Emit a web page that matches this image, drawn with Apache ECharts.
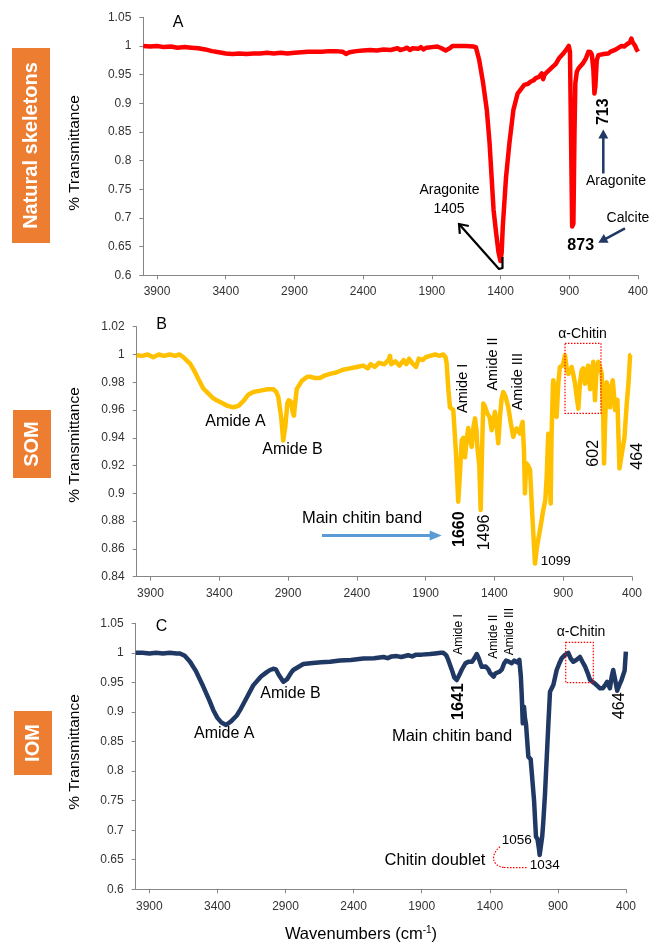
<!DOCTYPE html>
<html><head><meta charset="utf-8">
<script src="https://cdn.jsdelivr.net/npm/echarts@6/dist/echarts.min.js"></script>
<style>html,body{margin:0;padding:0;background:#fff}#c{width:651px;height:944px}</style>
</head><body><div id="c"></div>
<script>
// ---------- Data ----------
const xTicks = [3900, 3400, 2900, 2400, 1900, 1400, 900, 400];
const yTicksA = [0.6, 0.65, 0.7, 0.75, 0.8, 0.85, 0.9, 0.95, 1, 1.05];
const yTicksB = [0.84, 0.86, 0.88, 0.9, 0.92, 0.94, 0.96, 0.98, 1, 1.02];

// A: Natural skeletons
const wnA = [4000,3950,3900,3850,3800,3750,3700,3650,3600,3550,3500,3450,3400,3350,3300,3250,3200,3150,3100,3050,3000,2950,2900,2850,2800,2750,2700,2650,2600,2550,2525,2500,2450,2400,2350,2300,2250,2200,2150,2140,2130,2100,2080,2060,2040,2000,1980,1960,1940,1900,1860,1830,1800,1790,1770,1750,1700,1650,1600,1580,1556,1527,1500,1480,1451,1432,1415,1401,1392,1384,1360,1336,1307,1276,1228,1200,1180,1160,1144,1120,1100,1090,1080,1060,1048,1020,1000,976,950,920,904,895,885,879,870,862,856,845,832,800,780,760,745,736,725,717,710,700,688,650,616,600,580,560,540,520,500,480,460,448,440,430,420,410,400];
const tA  = [1.0,0.999,1.0,0.998,0.999,0.997,0.998,0.997,0.996,0.994,0.991,0.989,0.987,0.986,0.987,0.986,0.987,0.987,0.988,0.987,0.988,0.987,0.988,0.989,0.990,0.990,0.990,0.991,0.991,0.990,0.986,0.989,0.991,0.992,0.993,0.992,0.994,0.993,0.996,0.999,0.993,0.995,0.997,0.993,0.996,0.995,0.998,0.994,0.997,0.998,0.999,0.996,0.992,0.991,0.996,1.0,1.0,1.0,0.999,0.998,0.976,0.935,0.888,0.83,0.714,0.673,0.64,0.625,0.64,0.685,0.772,0.83,0.888,0.917,0.932,0.934,0.938,0.94,0.944,0.946,0.952,0.942,0.95,0.955,0.958,0.964,0.968,0.978,0.985,0.994,1.0,0.99,0.80,0.685,0.69,0.85,0.935,0.955,0.961,0.97,0.978,0.99,0.989,0.985,0.96,0.917,0.93,0.975,0.984,0.986,0.987,0.99,0.992,0.994,0.997,1.0,0.999,1.003,1.006,1.013,1.007,1.005,1.0,0.994,0.99];

// B: SOM
const wnB = [4000,3960,3920,3880,3840,3800,3760,3720,3690,3660,3630,3612,3580,3550,3516,3480,3450,3419,3380,3340,3298,3260,3220,3190,3152,3100,3050,3007,2985,2971,2950,2935,2920,2905,2895,2880,2865,2857,2845,2837,2800,2760,2740,2700,2668,2630,2595,2550,2500,2450,2400,2353,2320,2300,2270,2240,2200,2170,2159,2150,2120,2090,2060,2040,2020,2000,1990,1970,1950,1920,1900,1868,1830,1800,1772,1755,1747,1735,1723,1699,1680,1663,1650,1638,1625,1614,1600,1590,1578,1565,1552,1541,1530,1524,1510,1500,1490,1481,1470,1452,1435,1420,1408,1396,1385,1372,1360,1348,1336,1320,1299,1280,1263,1250,1239,1227,1214,1205,1195,1185,1178,1172,1166,1155,1141,1125,1105,1090,1069,1045,1030,1020,1012,1008,1000,991,985,975,972,960,948,935,924,904,887,875,863,850,839,825,814,800,790,778,766,755,742,730,718,705,695,681,669,660,645,630,620,610,603,596,584,570,560,550,540,530,523,514,506,498,491,480,467,455,438,425,414,405];
const tB  = [0.9995,0.999,1.0,0.998,1.0,0.999,1.0,0.999,1.0,0.998,0.995,0.9935,0.988,0.982,0.9755,0.972,0.969,0.967,0.965,0.963,0.962,0.963,0.967,0.971,0.973,0.974,0.975,0.975,0.973,0.9695,0.955,0.938,0.948,0.965,0.967,0.966,0.958,0.956,0.968,0.975,0.981,0.984,0.984,0.983,0.983,0.985,0.986,0.987,0.989,0.990,0.991,0.992,0.990,0.993,0.991,0.994,0.993,0.996,0.999,0.993,0.995,0.992,0.996,0.993,0.997,0.994,0.995,0.991,0.997,0.996,0.998,0.999,1.0,0.999,1.0,0.998,0.9935,0.975,0.962,0.96,0.93,0.894,0.915,0.938,0.94,0.926,0.94,0.947,0.94,0.9335,0.948,0.954,0.945,0.9335,0.92,0.888,0.93,0.9647,0.963,0.9575,0.955,0.9455,0.952,0.9587,0.95,0.936,0.955,0.968,0.973,0.97,0.962,0.95,0.9407,0.945,0.9467,0.945,0.943,0.948,0.9515,0.93,0.9,0.915,0.9215,0.92,0.917,0.885,0.8495,0.862,0.8735,0.888,0.895,0.912,0.935,0.943,0.92,0.8927,0.94,0.978,0.9815,0.975,0.955,0.98,0.991,0.992,0.9995,0.99,0.986,0.988,0.991,0.985,0.979,0.968,0.961,0.98,0.9885,0.99,0.979,0.987,0.992,0.975,0.985,0.9947,0.967,0.985,0.9947,0.99,0.986,0.96,0.9215,0.95,0.98,0.975,0.962,0.975,0.9815,0.97,0.96,0.965,0.9673,0.94,0.918,0.925,0.924,0.94,0.9647,0.98,0.9995,1.0];

// C: IOM
const wnC = [4000,3950,3900,3850,3800,3750,3700,3675,3640,3601,3560,3504,3460,3430,3400,3370,3337,3300,3258,3234,3190,3137,3080,3040,3014,2990,2970,2950,2916,2890,2860,2843,2800,2769,2700,2640,2573,2500,2420,2329,2250,2180,2150,2120,2084,2050,2000,1970,1940,1900,1839,1800,1760,1742,1720,1705,1680,1660,1643,1625,1607,1580,1558,1530,1510,1496,1480,1460,1430,1410,1399,1385,1372,1360,1348,1330,1311,1295,1281,1260,1239,1220,1200,1183,1172,1165,1158,1152,1149,1142,1134,1125,1117,1100,1093,1075,1061,1050,1040,1034,1027,1015,1008,995,984,970,958,933,909,890,873,850,824,805,787,765,738,720,701,680,664,650,628,610,591,570,555,538,528,518,505,494,480,465,450,433,420,410,401];
const tC  = [1.0,1.0,0.999,1.0,0.999,1.0,0.999,0.999,0.995,0.985,0.97,0.943,0.92,0.903,0.89,0.882,0.878,0.884,0.894,0.903,0.922,0.945,0.96,0.967,0.971,0.973,0.972,0.963,0.951,0.955,0.966,0.971,0.977,0.981,0.983,0.984,0.985,0.987,0.988,0.9905,0.991,0.993,0.991,0.994,0.9945,0.993,0.996,0.994,0.997,0.997,0.998,0.999,1.0,1.0,0.996,0.988,0.972,0.958,0.954,0.962,0.971,0.982,0.985,0.985,0.992,0.998,0.99,0.9766,0.977,0.972,0.966,0.968,0.9597,0.965,0.9665,0.968,0.9722,0.982,0.9868,0.985,0.9825,0.987,0.984,0.988,0.96,0.926,0.8808,0.905,0.909,0.89,0.879,0.85,0.8243,0.82,0.8186,0.75,0.689,0.685,0.67,0.658,0.661,0.69,0.7116,0.76,0.813,0.88,0.9343,0.946,0.971,0.982,0.9908,0.996,1.0,0.99,0.985,0.988,0.993,0.985,0.977,0.965,0.954,0.952,0.948,0.944,0.94,0.94,0.945,0.951,0.945,0.94,0.96,0.971,0.955,0.936,0.945,0.954,0.955,0.97,1.002];

// ---------- Chart ----------
const FF = 'Liberation Sans, Arial, sans-serif';
const AX = '#868686';
const chart = echarts.init(document.getElementById('c'), null, {renderer: 'canvas'});
const zip = (w, t) => w.map((v, i) => [v, t[i]]);

function xAx(gi, margin) {
  return {
    gridIndex: gi, type: 'value', min: 400, max: 4000, interval: 500, inverse: true,
    axisLine: {onZero: false, lineStyle: {color: AX, width: 1}},
    splitLine: {show: false},
    axisLabel: {customValues: xTicks, margin: margin, fontSize: 12, color: '#333', fontFamily: FF,
      formatter: v => String(v)},
    axisTick: {show: true, customValues: xTicks, length: 4, lineStyle: {color: AX}}
  };
}
function yAx(gi, min, max, interval, ticks) {
  return {
    gridIndex: gi, type: 'value', min: min, max: max, interval: interval,
    axisLine: {show: true, onZero: false, lineStyle: {color: AX, width: 1}},
    axisTick: {show: true, length: 4, lineStyle: {color: AX}},
    splitLine: {show: false},
    axisLabel: {margin: 12, fontSize: 12, color: '#333', fontFamily: FF,
      formatter: v => String(Math.round(v * 1000) / 1000)}
  };
}

function txt(x, y, text, size, o) {
  o = o || {};
  return {
    type: 'text', x: x, y: y, rotation: o.rot || 0, z: 100, silent: true,
    style: {text: text, fontSize: size, fontFamily: FF, fontWeight: o.bold ? 'bold' : 'normal',
      fill: o.color || '#000', align: 'center', verticalAlign: 'middle',
      textAlign: 'center', textVerticalAlign: 'middle', rich: o.rich}
  };
}
const V = Math.PI / 2;
function arrow(pts, color, w, hl, hw, open) {
  const n = pts.length;
  const [x2, y2] = pts[n - 1], [x1, y1] = pts[n - 2];
  const a = Math.atan2(y2 - y1, x2 - x1);
  const bx = x2 - hl * Math.cos(a), by = y2 - hl * Math.sin(a);
  const px = -Math.sin(a) * hw / 2, py = Math.cos(a) * hw / 2;
  if (open) {
    return [
      {type: 'polyline', z: 100, silent: true, shape: {points: pts}, style: {stroke: color, lineWidth: w, fill: null, lineJoin: 'round'}},
      {type: 'polyline', z: 100, silent: true, shape: {points: [[bx + px, by + py], [x2, y2], [bx - px, by - py]]}, style: {stroke: color, lineWidth: w, fill: null, lineJoin: 'miter'}}
    ];
  }
  const shaft = pts.slice(0, n - 1).concat([[x2 - (hl * 0.8) * Math.cos(a), y2 - (hl * 0.8) * Math.sin(a)]]);
  return [
    {type: 'polyline', z: 100, silent: true, shape: {points: shaft}, style: {stroke: color, lineWidth: w, fill: null, lineJoin: 'round'}},
    {type: 'polygon', z: 100, silent: true, shape: {points: [[x2, y2], [bx + px, by + py], [bx - px, by - py]]}, style: {fill: color}}
  ];
}
function dashRect(x, y, w, h) {
  return {type: 'rect', z: 100, silent: true, shape: {x: x, y: y, width: w, height: h},
    style: {fill: null, stroke: '#FF0000', lineWidth: 1.2, lineDash: [1.5, 1.5]}};
}
function box(x, y, w, h) {
  return {type: 'rect', z: 90, silent: true, shape: {x: x, y: y, width: w, height: h}, style: {fill: '#ED7D31'}};
}

const graphics = [
  // side labels
  box(12, 48, 38, 195), txt(31, 145.5, 'Natural skeletons', 20, {rot: V, bold: true, color: '#fff'}),
  box(13, 410, 38, 68), txt(32, 444, 'SOM', 20, {rot: V, bold: true, color: '#fff'}),
  box(14, 711, 38, 64), txt(33, 743, 'IOM', 20, {rot: V, bold: true, color: '#fff'}),
  // y titles
  txt(75, 153, '% Transmittance', 15.5, {rot: V}),
  txt(75, 445, '% Transmittance', 15.5, {rot: V}),
  txt(75, 752, '% Transmittance', 15.5, {rot: V}),
  // panel letters
  txt(178, 23, 'A', 16), txt(161.5, 324.5, 'B', 16), txt(161.5, 626.5, 'C', 16),
  // ---- panel A annotations
  txt(449.5, 190, 'Aragonite', 14), txt(449, 209, '1405', 14),
  ...arrow([[502.5, 257], [502.5, 268], [499, 269], [459, 224]], '#000', 2.2, 8, 12, true),
  txt(603.5, 111.7, '713', 16, {rot: V, bold: true}),
  ...arrow([[603.3, 173.5], [603.3, 129.5]], '#1F3864', 2.5, 9, 10),
  txt(616, 181.5, 'Aragonite', 14),
  txt(628, 218.5, 'Calcite', 14),
  ...arrow([[625, 228.3], [598.3, 242.7]], '#1F3864', 2.5, 9, 10),
  txt(580.7, 246, '873', 16, {bold: true}),
  // ---- panel B annotations
  txt(235.5, 421.5, 'Amide A', 16), txt(292.5, 449.5, 'Amide B', 16),
  txt(362, 518.5, 'Main chitin band', 16.5),
  ...arrow([[322, 535.5], [441.7, 535.5]], '#5B9BD5', 3, 12, 10),
  txt(463.3, 388.3, 'Amide I', 14.5, {rot: V}),
  txt(492.5, 364, 'Amide II', 14.5, {rot: V}),
  txt(518, 381.7, 'Amide III', 14.5, {rot: V}),
  txt(582.5, 334, 'α-Chitin', 14),
  dashRect(565, 343.3, 36, 70),
  txt(459.2, 529.2, '1660', 16, {rot: V, bold: true}),
  txt(484.2, 532.5, '1496', 16, {rot: V}),
  txt(555.8, 561.7, '1099', 13.5),
  txt(593.5, 453.3, '602', 16, {rot: V}),
  txt(637.5, 456.3, '464', 16, {rot: V}),
  // ---- panel C annotations
  txt(224.2, 733.5, 'Amide A', 16), txt(290.5, 693.5, 'Amide B', 16),
  txt(458.7, 634.5, 'Amide I', 12, {rot: V}),
  txt(493.7, 636.7, 'Amide II', 12, {rot: V}),
  txt(509.3, 631.7, 'Amide III', 12, {rot: V}),
  txt(581, 632, 'α-Chitin', 14),
  dashRect(565.7, 642.3, 27.6, 40.4),
  txt(458, 701.7, '1641', 16.5, {rot: V, bold: true}),
  txt(619.2, 705.8, '464', 16, {rot: V}),
  txt(452, 736, 'Main chitin band', 16.5),
  txt(516.7, 840.3, '1056', 13.5), txt(544.7, 865, '1034', 13.5),
  txt(435, 860, 'Chitin doublet', 16.5),
  {type: 'bezierCurve', z: 100, silent: true, shape: {x1: 500, y1: 846.7, cpx1: 490, cpy1: 855, cpx2: 492, cpy2: 866, x2: 504, y2: 867.5},
   style: {stroke: '#FF0000', lineWidth: 1.2, lineDash: [1.5, 1.5], fill: null}},
  {type: 'line', z: 100, silent: true, shape: {x1: 504, y1: 867.5, x2: 527, y2: 867.7},
   style: {stroke: '#FF0000', lineWidth: 1.2, lineDash: [1.5, 1.5]}},
  // x title
  txt(361, 934, '{n|Wavenumbers (cm}{s|-1}{n|)}', 16, {rich: {n: {fontSize: 16.5, fontFamily: FF, fill: '#000'}, s: {fontSize: 10, fontFamily: FF, fill: '#000', verticalAlign: 'top'}}})
];

chart.setOption({
  animation: false,
  backgroundColor: '#fff',
  grid: [
    {left: 143.3, top: 17.3, width: 500, height: 258},
    {left: 136.7, top: 326.7, width: 495.3, height: 250},
    {left: 135.7, top: 623.3, width: 490.3, height: 266}
  ],
  xAxis: [xAx(0, 10), xAx(1, 11), xAx(2, 11)],
  yAxis: [yAx(0, 0.6, 1.05, 0.05), yAx(1, 0.84, 1.02, 0.02), yAx(2, 0.6, 1.05, 0.05)],
  series: [
    {type: 'line', xAxisIndex: 0, yAxisIndex: 0, data: zip(wnA, tA), showSymbol: false, lineStyle: {width: 4.5, color: '#FF0000', join: 'round'}, itemStyle: {color: '#FF0000'}},
    {type: 'line', xAxisIndex: 1, yAxisIndex: 1, data: zip(wnB, tB), showSymbol: false, lineStyle: {width: 4.5, color: '#FFC000', join: 'round'}, itemStyle: {color: '#FFC000'}},
    {type: 'line', xAxisIndex: 2, yAxisIndex: 2, data: zip(wnC, tC), showSymbol: false, lineStyle: {width: 4.5, color: '#203864', join: 'round'}, itemStyle: {color: '#203864'}}
  ],
  graphic: {elements: graphics}
});
</script></body></html>
